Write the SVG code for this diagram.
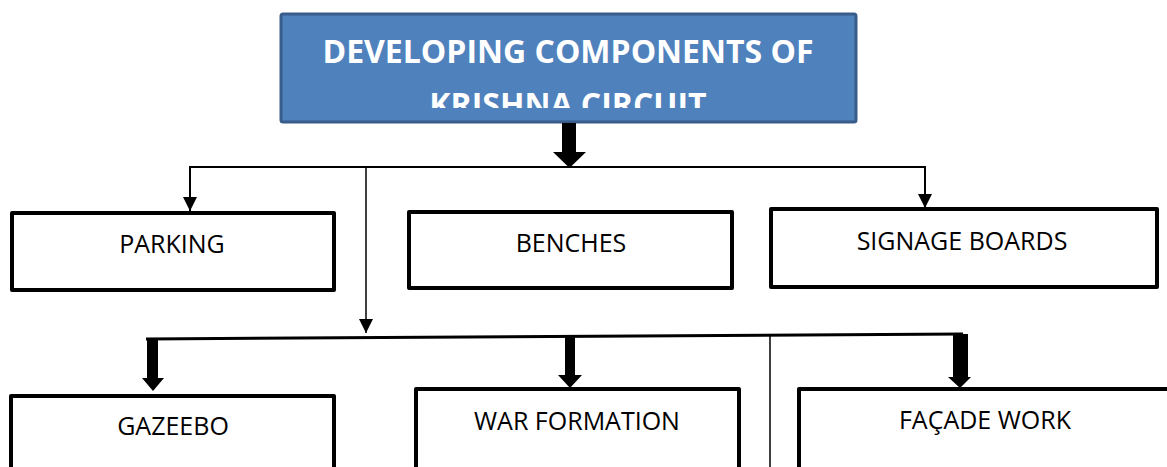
<svg xmlns="http://www.w3.org/2000/svg" width="1167" height="467" viewBox="0 0 1167 467">
<style>
.box{fill:#fff;stroke:#000;stroke-width:4;stroke-linejoin:round}
.lbl{font-family:"Open Sans","Liberation Sans",sans-serif;font-size:25px;fill:#000;text-anchor:middle}
.thin{fill:none;stroke:#000;stroke-width:2}
.thick{fill:#000;stroke:none}
</style>
<defs>
<marker id="ah" markerWidth="14" markerHeight="14" refX="14" refY="7" orient="auto" markerUnits="userSpaceOnUse" viewBox="0 0 14 14">
<path d="M0,0 L14,7 L0,14 Z" fill="#000"/>
</marker>
<clipPath id="tclip"><rect x="282" y="15" width="573" height="93"/></clipPath>
</defs>
<rect width="1167" height="467" fill="#fff"/>
<g id="title">
<rect x="281" y="14" width="575" height="108" rx="2" fill="#4F81BD" stroke="#385D8A" stroke-width="3"/>
<g clip-path="url(#tclip)" font-family="'Open Sans','Liberation Sans',sans-serif" font-weight="bold" font-size="32" fill="#fff" text-anchor="middle">
<text x="568" y="63">DEVELOPING COMPONENTS OF</text>
<text x="568" y="116">KRISHNA CIRCUIT</text>
</g>
</g>
<g id="connectors">
<path class="thick" d="M562,123 L576,123 L576,152 L586,152 L569.5,168 L553,152 L562,152 Z"/>
<line class="thin" x1="189" y1="167" x2="926" y2="167"/>
<line class="thin" x1="190" y1="167" x2="190" y2="211" marker-end="url(#ah)"/>
<line class="thin" x1="925" y1="167" x2="925" y2="208" marker-end="url(#ah)"/>
<line x1="366" y1="168" x2="366" y2="333" stroke="#000" stroke-width="1.5" marker-end="url(#ah)"/>
<line x1="146" y1="339" x2="963" y2="334" stroke="#000" stroke-width="3"/>
<path class="thick" d="M147,338 L158,338 L158,378 L164,378 L153,391 L142,378 L147,378 Z"/>
<path class="thick" d="M565,336 L575,336 L575,375 L582,375 L570,388 L558,375 L565,375 Z"/>
<path class="thick" d="M953,334 L968,334 L968,377 L971,377 L960,388 L948,377 L953,377 Z"/>
<line x1="770" y1="335" x2="770" y2="467" stroke="#000" stroke-width="1.5"/>
</g>
<g id="parking">
<rect class="box" x="12" y="213" width="322" height="77"/>
<text class="lbl" x="172" y="253">PARKING</text>
</g>
<g id="benches">
<rect class="box" x="409" y="212" width="323" height="76"/>
<text class="lbl" x="571" y="252">BENCHES</text>
</g>
<g id="signage">
<rect class="box" x="771" y="209" width="386" height="78"/>
<text class="lbl" x="962" y="250">SIGNAGE BOARDS</text>
</g>
<g id="gazeebo">
<rect class="box" x="11" y="396" width="323" height="100"/>
<text class="lbl" x="173" y="435">GAZEEBO</text>
</g>
<g id="war">
<rect class="box" x="416" y="389" width="323" height="100"/>
<text class="lbl" x="577" y="430">WAR FORMATION</text>
</g>
<g id="facade">
<rect class="box" x="799" y="389" width="400" height="100"/>
<text class="lbl" x="985" y="429">FAÇADE WORK</text>
</g>
</svg>
